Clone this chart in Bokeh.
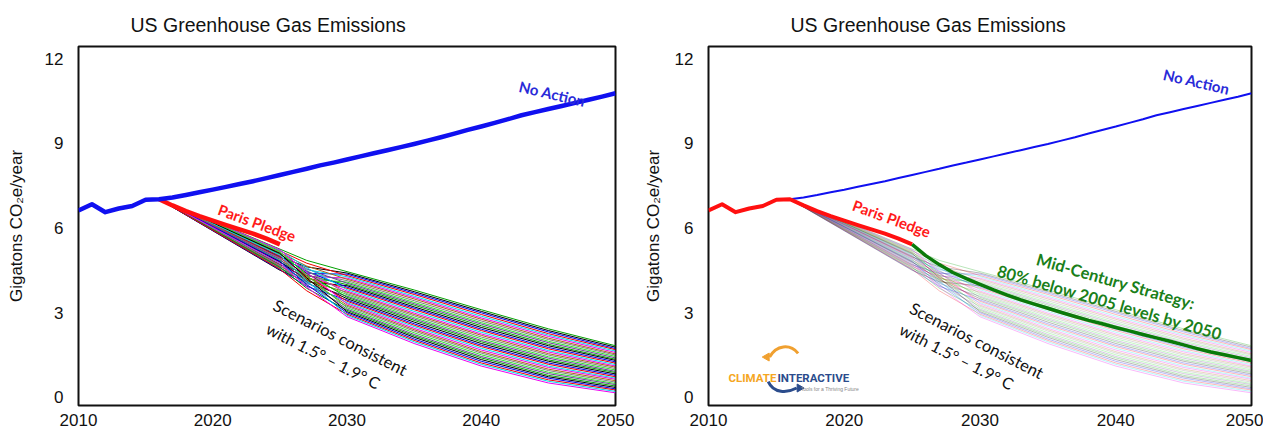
from bokeh.plotting import figure
from bokeh.layouts import row
from bokeh.models import FixedTicker, Label, ColumnDataSource
from bokeh.embed import file_html
from bokeh.resources import INLINE

# ---------------- data ----------------
hist_years = [2010, 2011, 2012, 2013, 2014, 2015, 2016]
hist_vals = [6.62, 6.84, 6.56, 6.69, 6.78, 7.0, 7.02]

na_years = list(range(2016, 2051))
na_vals = [7.02, 7.08, 7.17, 7.27, 7.36, 7.46, 7.56, 7.66, 7.77, 7.88,
           7.99, 8.1, 8.22, 8.32, 8.43, 8.54, 8.65, 8.76, 8.87, 8.98,
           9.1, 9.22, 9.35, 9.48, 9.6, 9.73, 9.86, 10.0, 10.11, 10.22,
           10.33, 10.44, 10.55, 10.66, 10.78]

paris_years = list(range(2016, 2026))
paris_vals = [7.02, 6.8, 6.6, 6.42, 6.26, 6.1, 5.95, 5.8, 5.62, 5.42]

mcs_years = list(range(2025, 2051))
mcs_vals = [5.42, 5.02, 4.7, 4.42, 4.2, 4.0, 3.8, 3.62, 3.45, 3.3,
            3.15, 3.0, 2.86, 2.72, 2.6, 2.47, 2.35, 2.22, 2.1, 1.98,
            1.85, 1.72, 1.6, 1.5, 1.4, 1.3]

scen_years = [2016, 2020, 2025, 2027, 2030, 2035, 2040, 2045, 2050]
scen_start = 7.02
scenarios = [
    [6.25, 5.25, 4.85, 4.45, 3.80, 3.10, 2.42, 1.82],
    [6.12, 4.97, 4.62, 4.40, 3.74, 3.04, 2.36, 1.77],
    [5.99, 4.69, 4.39, 4.36, 3.69, 2.99, 2.31, 1.72],
    [6.22, 5.19, 4.75, 4.31, 3.64, 2.93, 2.25, 1.68],
    [6.09, 4.91, 4.52, 4.27, 3.58, 2.87, 2.20, 1.63],
    [5.96, 4.63, 4.29, 4.22, 3.53, 2.81, 2.15, 1.58],
    [6.19, 5.12, 4.65, 4.18, 3.48, 2.76, 2.09, 1.53],
    [6.06, 4.84, 4.42, 4.13, 3.42, 2.70, 2.04, 1.49],
    [5.93, 4.56, 4.19, 4.08, 3.36, 2.64, 1.98, 1.44],
    [6.16, 5.06, 4.55, 4.04, 3.31, 2.59, 1.93, 1.39],
    [6.03, 4.78, 4.32, 3.99, 3.26, 2.53, 1.87, 1.34],
    [5.90, 4.50, 4.09, 3.95, 3.20, 2.47, 1.82, 1.30],
    [6.13, 4.99, 4.46, 3.90, 3.15, 2.41, 1.76, 1.25],
    [6.00, 4.71, 4.23, 3.86, 3.10, 2.36, 1.71, 1.20],
    [6.23, 5.21, 4.59, 3.81, 3.04, 2.30, 1.65, 1.15],
    [6.10, 4.93, 4.36, 3.76, 2.98, 2.24, 1.60, 1.10],
    [5.97, 4.65, 4.13, 3.72, 2.93, 2.19, 1.54, 1.06],
    [6.20, 5.14, 4.49, 3.67, 2.88, 2.13, 1.49, 1.01],
    [6.07, 4.86, 4.26, 3.63, 2.82, 2.07, 1.43, 0.96],
    [5.94, 4.59, 4.03, 3.58, 2.77, 2.01, 1.38, 0.91],
    [6.17, 5.08, 4.39, 3.54, 2.72, 1.96, 1.32, 0.87],
    [6.04, 4.80, 4.16, 3.49, 2.66, 1.90, 1.27, 0.82],
    [5.91, 4.52, 3.93, 3.44, 2.60, 1.84, 1.21, 0.77],
    [6.14, 5.01, 4.29, 3.40, 2.55, 1.79, 1.16, 0.72],
    [6.01, 4.74, 4.06, 3.35, 2.50, 1.73, 1.10, 0.67],
    [6.24, 5.23, 4.42, 3.31, 2.44, 1.67, 1.05, 0.63],
    [6.11, 4.95, 4.19, 3.26, 2.39, 1.61, 0.99, 0.58],
    [5.98, 4.67, 3.96, 3.22, 2.34, 1.56, 0.94, 0.53],
    [6.21, 5.16, 4.32, 3.17, 2.28, 1.50, 0.88, 0.48],
    [6.08, 4.89, 4.09, 3.12, 2.22, 1.44, 0.83, 0.44],
    [5.95, 4.61, 3.86, 3.08, 2.17, 1.39, 0.77, 0.39],
    [6.18, 5.10, 4.23, 3.03, 2.12, 1.33, 0.72, 0.34],
    [6.05, 4.82, 3.99, 2.99, 2.06, 1.27, 0.67, 0.29],
    [5.92, 4.54, 3.77, 2.94, 2.01, 1.21, 0.61, 0.25],
    [6.15, 5.04, 4.13, 2.90, 1.96, 1.16, 0.56, 0.20],
    [6.02, 4.76, 3.90, 2.85, 1.90, 1.10, 0.50, 0.15],
]
palette = ["#00a000", "#000000", "#0000ee", "#ee0000", "#00dde8",
           "#ee00ee", "#b0601c", "#808080", "#30e030", "#6a3d9a"]

x_ticks = [2010, 2020, 2030, 2040, 2050]
y_ticks = [0, 3, 6, 9, 12]
title_text = "US Greenhouse Gas Emissions"
y_label = "Gigatons CO\u2082e/year"

scen_src = ColumnDataSource(dict(
    xs=[scen_years for _ in scenarios],
    ys=[[scen_start] + s for s in scenarios],
    color=[palette[i % len(palette)] for i in range(len(scenarios))],
))

AXFONT = "Liberation Sans"
ANFONT = "Lato"


def make_fig(border_left, frame_w, border_right, title_offset, label_standoff):
    p = figure(frame_width=frame_w, frame_height=359,
               x_range=(2010, 2050), y_range=(-0.3, 12.44),
               output_backend="svg", toolbar_location=None,
               min_border_left=border_left, min_border_right=border_right,
               min_border_top=46, min_border_bottom=22,
               background_fill_color="white", border_fill_color="white")
    p.title.text = title_text
    p.title.align = "left"
    p.title.offset = title_offset
    p.title.standoff = 21
    p.title.text_font = AXFONT
    p.title.text_font_size = "19.5px"
    p.title.text_font_style = "normal"
    p.title.text_color = "#111111"
    p.outline_line_color = "#111111"
    p.outline_line_width = 2
    p.xgrid.visible = False
    p.ygrid.visible = False
    for ax in (p.xaxis[0], p.yaxis[0]):
        ax.axis_line_color = None
        ax.major_tick_line_color = None
        ax.minor_tick_line_color = None
        ax.major_tick_in = 0
        ax.major_tick_out = 0
        ax.minor_tick_in = 0
        ax.minor_tick_out = 0
        ax.major_label_text_font = AXFONT
        ax.major_label_text_font_size = "17px"
        ax.major_label_text_color = "#111111"
    p.xaxis[0].ticker = FixedTicker(ticks=x_ticks)
    p.yaxis[0].ticker = FixedTicker(ticks=y_ticks)
    p.xaxis[0].major_label_standoff = 8
    p.yaxis[0].major_label_standoff = 15
    p.yaxis[0].axis_label = y_label
    p.yaxis[0].axis_label_text_font = AXFONT
    p.yaxis[0].axis_label_text_font_size = "17px"
    p.yaxis[0].axis_label_text_font_style = "normal"
    p.yaxis[0].axis_label_text_color = "#111111"
    p.yaxis[0].axis_label_standoff = label_standoff
    return p


def lab(p, x, y, text, angle, color, size, style="bold", align="center"):
    p.add_layout(Label(x=x, y=y, text=text, angle=angle, angle_units="deg",
                       text_align=align, text_baseline="middle",
                       text_font=ANFONT, text_font_style=style,
                       text_font_size=size, text_color=color))


# ---------------- left chart ----------------
p1 = make_fig(78, 537, 20, 52, 16)
p1.multi_line(xs="xs", ys="ys", line_color="color", line_width=1.0,
              source=scen_src)
p1.line(paris_years, paris_vals, line_color="#ff1010", line_width=4.5,
        line_join="round")
p1.line(hist_years + na_years[1:], hist_vals + na_vals[1:],
        line_color="#1010f0", line_width=4.5, line_join="round")
lab(p1, 2045.3, 10.77, "No Action", -13, "#2a2ad8", "15px")
lab(p1, 2023.3, 6.19, "Paris Pledge", -20, "#ff1a1a", "15px")
lab(p1, 2029.5, 2.11, "Scenarios consistent", -27, "#111111", "16.5px", "normal")
lab(p1, 2028.25, 1.47, "with 1.5\u00b0 \u2013 1.9\u00b0 C", -27, "#111111", "16px", "normal")

# ---------------- right chart ----------------
p2 = make_fig(73, 543, 12, 82, 9)
p2.multi_line(xs="xs", ys="ys", line_color="color", line_width=1.0,
              line_alpha=0.28, source=scen_src)
p2.line(na_years, na_vals, line_color="#1010f0", line_width=2)
p2.line(hist_years + paris_years[1:], hist_vals + paris_vals[1:],
        line_color="#ff1010", line_width=4, line_join="round")
p2.line(mcs_years, mcs_vals, line_color="#0a7a0a", line_width=3.5,
        line_join="round")
lab(p2, 2045.95, 11.2, "No Action", -13, "#2a2ad8", "15px")
lab(p2, 2023.5, 6.34, "Paris Pledge", -20, "#ff1a1a", "15px")
lab(p2, 2040.0, 4.1, "Mid-Century Strategy:", -16, "#1a7f1a", "16.5px")
lab(p2, 2039.55, 3.35, "80% below 2005 levels by 2050", -16, "#1a7f1a", "16.5px")
lab(p2, 2029.75, 2.0, "Scenarios consistent", -27, "#111111", "16.5px", "normal")
lab(p2, 2028.3, 1.44, "with 1.5\u00b0 \u2013 1.9\u00b0 C", -27, "#111111", "16px", "normal")

# logo
p2.bezier(x0=[2016.6], y0=[1.55], x1=[2014.5], y1=[1.42],
          cx0=[2016.0], cy0=[1.9], cx1=[2015.0], cy1=[1.85],
          line_color="#f0a030", line_width=3)
p2.scatter([2014.3], [1.42], marker="triangle", size=8, angle=1.5708,
           fill_color="#f0a030", line_color="#f0a030")
p2.bezier(x0=[2014.4], y0=[0.55], x1=[2016.5], y1=[0.32],
          cx0=[2014.8], cy0=[0.12], cx1=[2015.8], cy1=[0.14],
          line_color="#2b4c8c", line_width=3)
p2.scatter([2016.7], [0.32], marker="triangle", size=8, angle=-1.5708,
           fill_color="#2b4c8c", line_color="#2b4c8c")
for txt, xx, col in (("CLIMATE", 2011.47, "#f5a623"), ("INTERACTIVE", 2015.08, "#2b4c8c")):
    p2.add_layout(Label(x=xx, y=0.69, text=txt, text_align="left",
                        text_baseline="alphabetic",
                        text_font="Roboto",
                        text_font_style="bold", text_font_size="11.5px",
                        text_color=col))
p2.add_layout(Label(x=2016.8, y=0.28, text="Tools for a Thriving Future",
                    text_align="left", text_baseline="middle",
                    text_font="Liberation Sans", text_font_size="5px",
                    text_color="#888888"))

layout = row(p1, p2)
open("out.html", "w").write(file_html(layout, INLINE))
